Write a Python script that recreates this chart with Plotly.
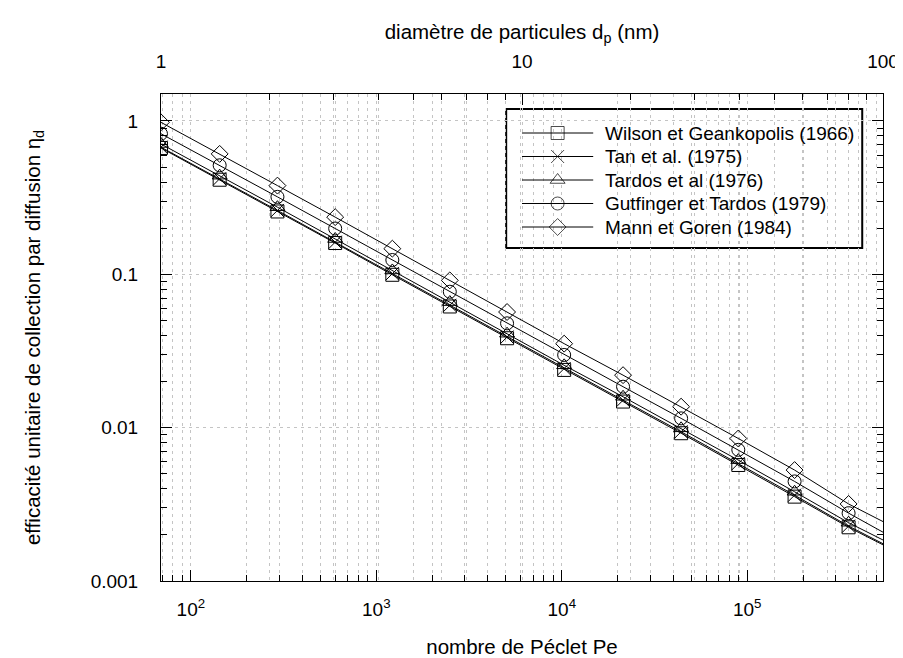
import plotly.graph_objects as go

# Péclet number at each marker, plus the point where the lines leave the frame
pe = [69, 143, 293, 600, 1220, 2490, 5070, 10300, 21400, 44000, 89500, 180000, 352000]
pe_end = 540000

wilson = [0.667, 0.414, 0.257, 0.16, 0.0993, 0.0617, 0.0383, 0.0238, 0.0148, 0.0092, 0.00571, 0.00355, 0.00224]
tan = [0.675, 0.42, 0.261, 0.162, 0.101, 0.0628, 0.039, 0.0243, 0.0151, 0.0094, 0.00584, 0.00363, 0.00228]
tardos = [0.708, 0.44, 0.274, 0.17, 0.106, 0.0659, 0.041, 0.0255, 0.0159, 0.0099, 0.00614, 0.00382, 0.0024]
gutfinger = [0.826, 0.514, 0.32, 0.199, 0.124, 0.077, 0.0479, 0.0298, 0.0185, 0.0115, 0.00717, 0.00446, 0.00277]
mann = [0.98, 0.61, 0.379, 0.236, 0.147, 0.0913, 0.0568, 0.0353, 0.022, 0.0137, 0.0085, 0.00529, 0.00318]
end_values = [0.00172, 0.00175, 0.00185, 0.00208, 0.00244]

names = ["Wilson et Geankopolis (1966)", "Tan et al. (1975)", "Tardos et al (1976)",
         "Gutfinger et Tardos (1979)", "Mann et Goren (1984)"]
symbols = ["square-open", "x-thin-open", "triangle-up-open", "circle-open", "diamond-open"]
series = [wilson, tan, tardos, gutfinger, mann]

# top axis: particle diameter (nm)
dp_ticks = [1, 10, 100]
dp_minor = [2, 3, 4, 5, 6, 7, 8, 9, 20, 30, 40, 50, 60, 70, 80, 90]
pe_ticks = [100, 1000, 10000, 100000]
pe_labels = ["10<sup>2</sup>", "10<sup>3</sup>", "10<sup>4</sup>", "10<sup>5</sup>"]
pe_minor = [m * 10 ** e for e in range(1, 6) for m in range(2, 10)]
eta_ticks = [0.001, 0.01, 0.1, 1]
eta_labels = ["0.001", "0.01", "0.1", "1"]
eta_minor = [m * 10.0 ** e for e in range(-3, 0) for m in range(2, 10)]

W, H = 903, 658
L, R, T, B = 153, 20, 86, 85

fig = go.Figure()
for name, sym, ys, yend in zip(names, symbols, series, end_values):
    # line runs to the right edge, markers only at the computed points
    fig.add_trace(go.Scatter(x=pe + [pe_end], y=ys + [yend], mode="lines",
                             line=dict(color="black", width=1), showlegend=False,
                             hoverinfo="skip"))
    fig.add_trace(go.Scatter(x=pe, y=ys, mode="markers", name=name, showlegend=False,
                             marker=dict(symbol=sym, size=13, color="black",
                                         line=dict(width=1, color="black"))))

# invisible trace so the dp axis is drawn
fig.add_trace(go.Scatter(x=dp_ticks, y=[1, 1, 1], xaxis="x2", mode="markers",
                         marker=dict(opacity=0), showlegend=False, hoverinfo="skip"))

# hand-made legend box, laid out in pixels on a hidden overlay axis
box_x0, box_x1, box_y0, box_y1 = 502, 862, 101, 240
row_y = [125, 148.5, 172, 195.5, 219]
fig.add_shape(type="rect", xref="x3", yref="y3", x0=box_x0, x1=box_x1, y0=box_y0, y1=box_y1,
              fillcolor="white", line=dict(color="black", width=2), layer="below")
for name, sym, ry in zip(names, symbols, row_y):
    fig.add_trace(go.Scatter(x=[518, 554, 590], y=[ry, ry, ry], xaxis="x3", yaxis="y3",
                             mode="lines+markers", showlegend=False, hoverinfo="skip",
                             line=dict(color="black", width=1),
                             marker=dict(symbol=sym, size=[0, 13, 0], color="black",
                                         line=dict(width=1, color="black"))))
    fig.add_annotation(x=600, y=ry, xref="x3", yref="y3", text=name, showarrow=False,
                       xanchor="left", yanchor="middle", font=dict(size=19))

dash = "3px,4px"
axis_common = dict(type="log", ticks="inside", ticklen=11, tickcolor="black", tickwidth=1,
                   showline=True, linecolor="black", linewidth=1, zeroline=False,
                   showgrid=True, gridcolor="#c4c4c4", griddash=dash, gridwidth=1)

def minor(vals, grid=True):
    return dict(tickmode="array", tickvals=vals, ticks="inside", ticklen=6,
                tickcolor="black", showgrid=grid, gridcolor="#c4c4c4",
                griddash=dash, gridwidth=1)

title_size = 20.5

fig.update_layout(
    width=W, height=H,
    paper_bgcolor="white", plot_bgcolor="white",
    font=dict(family="Liberation Sans, Arial, sans-serif", size=19, color="black"),
    margin=dict(l=L, r=R, t=T, b=B),
    showlegend=False,
    xaxis=dict(range=[1.839, 5.732], tickvals=pe_ticks, ticktext=pe_labels,
               ticklabelstandoff=11,
               title=dict(text="nombre de Péclet Pe", standoff=20,
                          font=dict(size=title_size)),
               minor=minor(pe_minor), **axis_common),
    xaxis2=dict(range=[0, 2], overlaying="x", side="top",
                tickvals=dp_ticks, ticktext=["1", "10", "100"],
                ticklabelstandoff=17,
                title=dict(text="diamètre de particules d<sub>p</sub> (nm)", standoff=6,
                           font=dict(size=title_size)),
                minor=minor(dp_minor), **axis_common),
    yaxis=dict(range=[-3, 0.176], tickvals=eta_ticks, ticktext=eta_labels,
               mirror="ticks", ticklabelstandoff=18,
               title=dict(text="efficacité unitaire de collection par diffusion η<sub>d</sub>",
                          standoff=44, font=dict(size=title_size)),
               minor=minor(eta_minor, grid=False), **axis_common),
    # pixel frame for the legend
    xaxis3=dict(range=[L, W - R], overlaying="x", visible=False, fixedrange=True),
    yaxis3=dict(range=[H - B, T], overlaying="y", visible=False, fixedrange=True),
)

fig.write_html("out.html")
